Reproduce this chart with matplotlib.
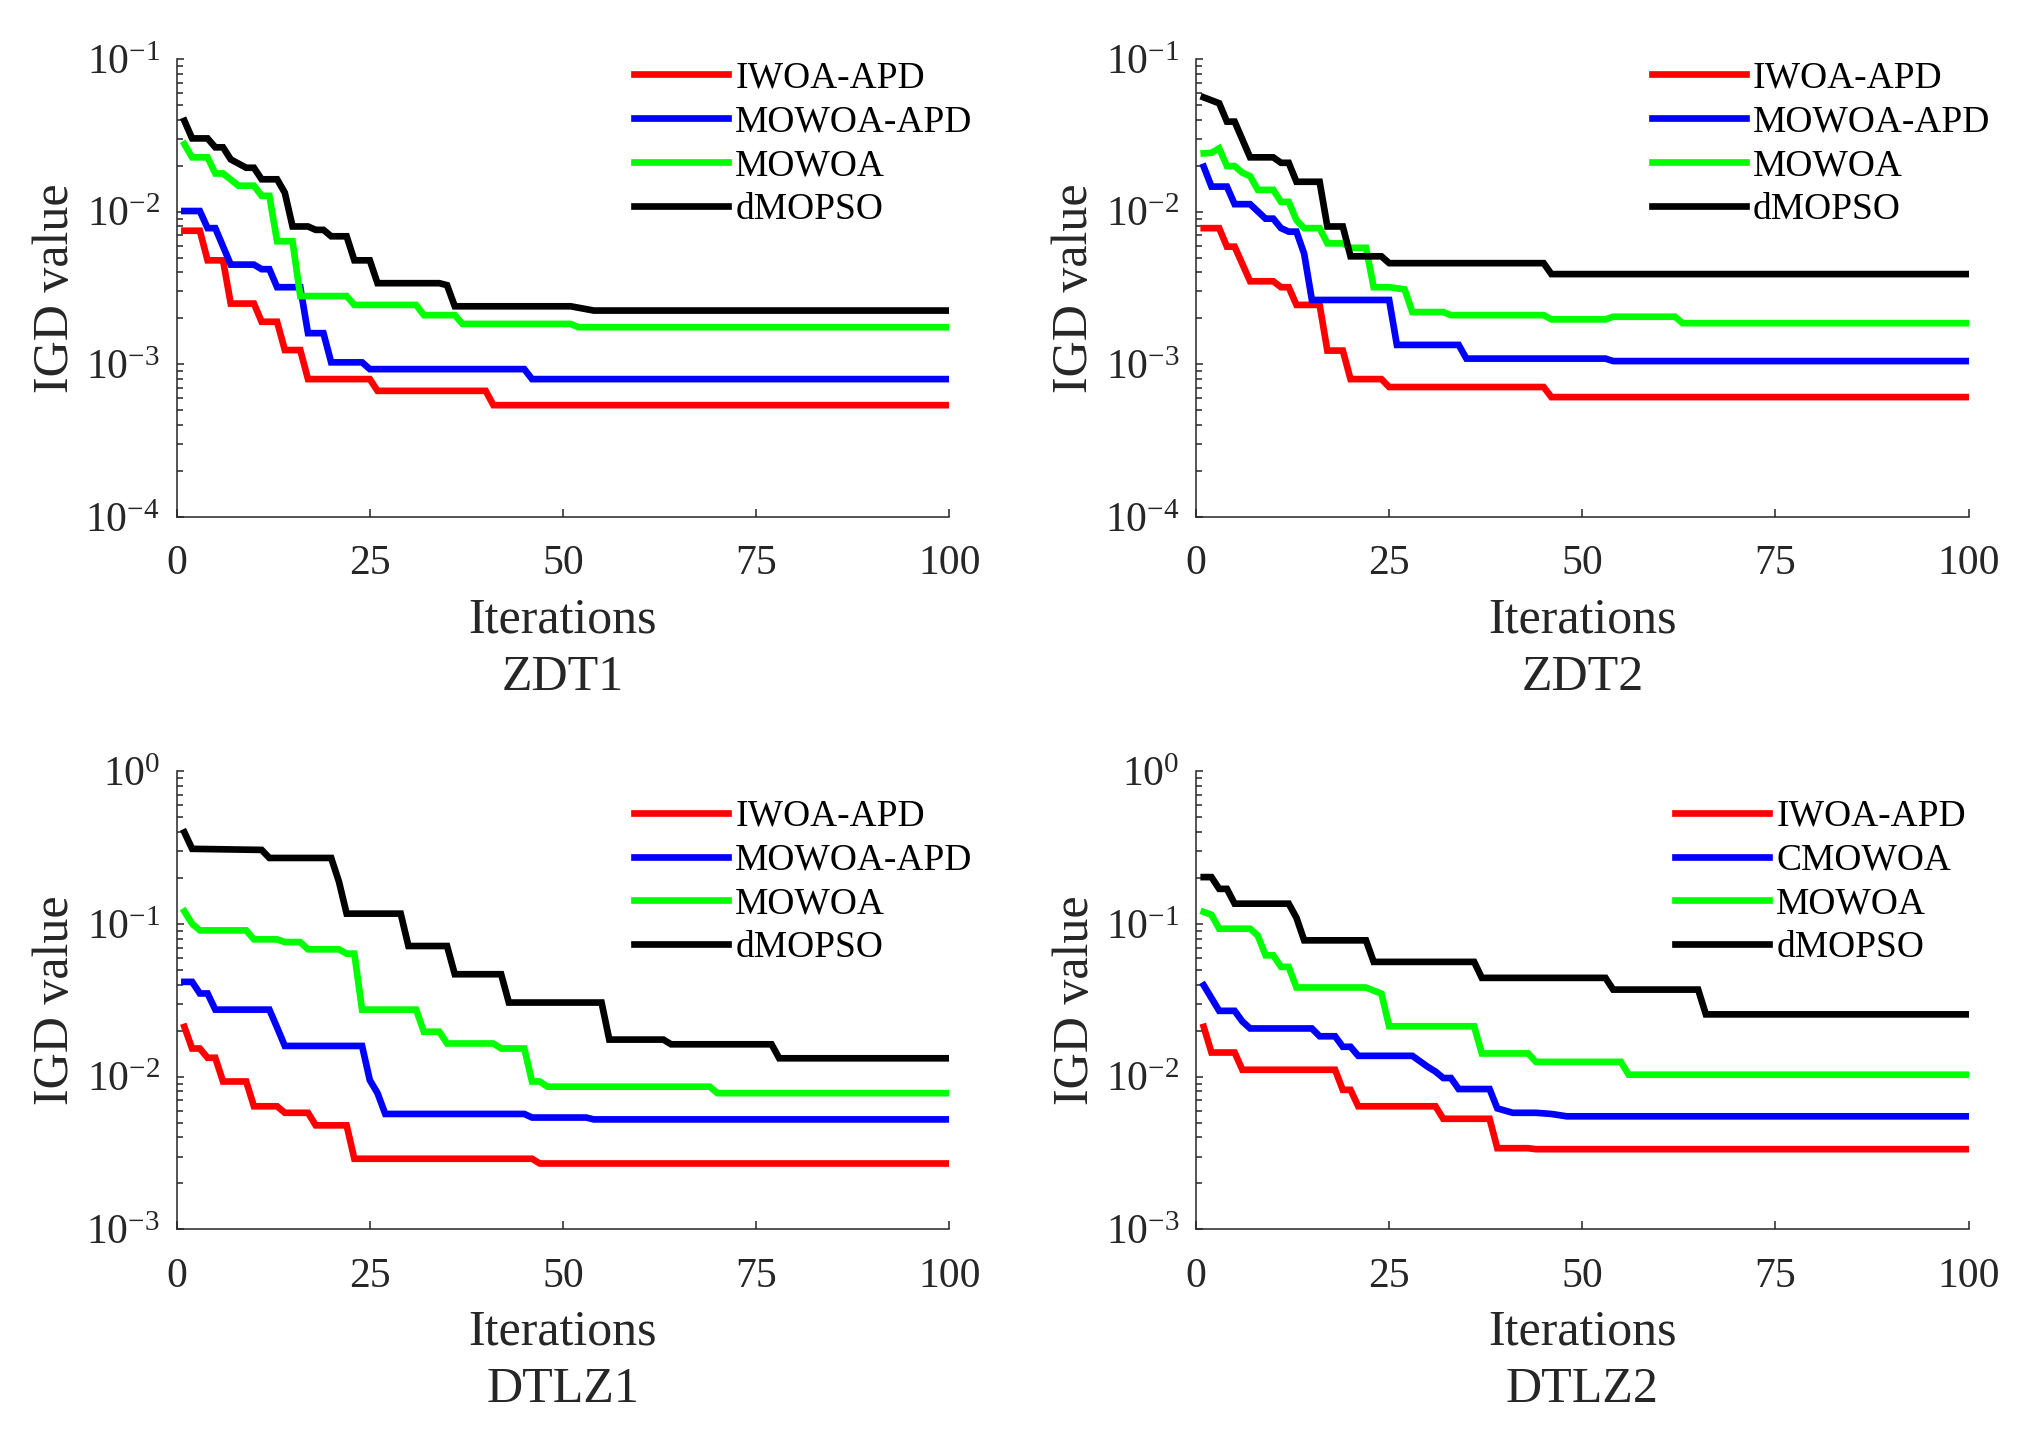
import matplotlib
matplotlib.use('Agg')
import matplotlib.pyplot as plt
from matplotlib.ticker import LogLocator, NullFormatter

plt.rcParams['font.family'] = ['Liberation Serif', 'DejaVu Serif']
plt.rcParams['mathtext.fontset'] = 'custom'
plt.rcParams['mathtext.rm'] = 'Liberation Serif'
plt.rcParams['mathtext.it'] = 'Liberation Serif:italic'
plt.rcParams['axes.unicode_minus'] = False

# (iteration, IGD value) knots
zdt1_iwoa_apd = [(1, 0.0075), (3, 0.0075), (4, 0.0048), (6, 0.0048), (7, 0.0025), (10, 0.0025),
                 (11, 0.0019), (13, 0.0019), (14, 0.00124), (16, 0.00124), (17, 0.0008), (25, 0.0008),
                 (26, 0.00067), (40, 0.00067), (41, 0.00054), (100, 0.00054)]
zdt1_mowoa_apd = [(1, 0.0101), (3, 0.0101), (4, 0.0078), (5, 0.0078), (7, 0.0045), (10, 0.0045),
                  (11, 0.0042), (12, 0.0042), (13, 0.0032), (16, 0.0032), (17, 0.0016), (19, 0.0016),
                  (20, 0.00103), (24, 0.00103), (25, 0.00093), (45, 0.00093), (46, 0.0008), (100, 0.0008)]
zdt1_mowoa = [(1, 0.0277), (2, 0.0227), (4, 0.0227), (5, 0.0178), (6, 0.0178), (8, 0.0148), (10, 0.0148),
              (11, 0.0127), (12, 0.0127), (13, 0.0064), (15, 0.0064), (16, 0.0028), (22, 0.0028),
              (23, 0.00245), (31, 0.00245), (32, 0.0021), (36, 0.0021), (37, 0.00184), (51, 0.00184),
              (52, 0.00175), (100, 0.00175)]
zdt1_dmopso = [(1, 0.0394), (2, 0.0302), (4, 0.0302), (5, 0.0264), (6, 0.0264), (7, 0.022), (9, 0.0194),
               (10, 0.0194), (11, 0.0163), (13, 0.0163), (14, 0.0133), (15, 0.008), (17, 0.008),
               (18, 0.0076), (19, 0.0076), (20, 0.0069), (22, 0.0069), (23, 0.0048), (25, 0.0048),
               (26, 0.0034), (34, 0.0034), (35, 0.0033), (36, 0.0024), (51, 0.0024), (54, 0.00225),
               (100, 0.00225)]

zdt2_iwoa_apd = [(1, 0.0078), (3, 0.0078), (4, 0.0059), (5, 0.0059), (7, 0.0035), (10, 0.0035),
                 (11, 0.0032), (12, 0.0032), (13, 0.00245), (16, 0.00245), (17, 0.00123), (19, 0.00123),
                 (20, 0.0008), (24, 0.0008), (25, 0.00071), (45, 0.00071), (46, 0.00061), (100, 0.00061)]
zdt2_mowoa_apd = [(1, 0.0197), (2, 0.0146), (4, 0.0146), (5, 0.0112), (7, 0.0112), (9, 0.009), (10, 0.009),
                  (11, 0.0078), (12, 0.0074), (13, 0.0074), (14, 0.0053), (15, 0.00264), (25, 0.00264),
                  (26, 0.00134), (34, 0.00134), (35, 0.00109), (53, 0.00109), (54, 0.00105), (100, 0.00105)]
zdt2_mowoa = [(1, 0.0241), (2, 0.0243), (3, 0.026), (4, 0.0199), (5, 0.0199), (6, 0.018), (7, 0.0171),
              (8, 0.0139), (10, 0.0139), (11, 0.0116), (12, 0.0116), (13, 0.0088), (14, 0.0078),
              (16, 0.0078), (17, 0.0062), (19, 0.0062), (20, 0.0058), (22, 0.0058), (23, 0.0032),
              (25, 0.0032), (27, 0.0031), (28, 0.0022), (32, 0.0022), (33, 0.0021), (45, 0.0021),
              (46, 0.00197), (53, 0.00197), (54, 0.00205), (62, 0.00205), (63, 0.00186), (100, 0.00186)]
zdt2_dmopso = [(1, 0.0561), (3, 0.0513), (4, 0.0389), (5, 0.0389), (7, 0.0227), (10, 0.0227),
               (11, 0.0209), (12, 0.0209), (13, 0.0157), (16, 0.0157), (17, 0.008), (19, 0.008),
               (20, 0.0051), (24, 0.0051), (25, 0.0046), (45, 0.0046), (46, 0.0039), (100, 0.0039)]

dtlz1_iwoa_apd = [(1, 0.0212), (2, 0.0153), (3, 0.0153), (4, 0.0133), (5, 0.0133), (6, 0.0093), (9, 0.0093),
                  (10, 0.0064), (13, 0.0064), (14, 0.0058), (17, 0.0058), (18, 0.0048), (22, 0.0048),
                  (23, 0.0029), (46, 0.0029), (47, 0.0027), (100, 0.0027)]
dtlz1_mowoa_apd = [(1, 0.0418), (2, 0.0418), (3, 0.0351), (4, 0.0351), (5, 0.0275), (12, 0.0275),
                   (13, 0.021), (14, 0.0159), (24, 0.0159), (25, 0.0095), (26, 0.0078), (27, 0.0057),
                   (45, 0.0057), (46, 0.0054), (53, 0.0054), (54, 0.00525), (100, 0.00525)]
dtlz1_mowoa = [(1, 0.121), (2, 0.1005), (3, 0.0909), (9, 0.0909), (10, 0.0794), (13, 0.0794), (14, 0.0762),
               (16, 0.0762), (17, 0.0683), (21, 0.0683), (22, 0.064), (23, 0.064), (24, 0.0275),
               (31, 0.0275), (32, 0.0197), (34, 0.0197), (35, 0.0165), (41, 0.0165), (42, 0.0153),
               (45, 0.0153), (46, 0.0093), (47, 0.0093), (48, 0.0086), (69, 0.0086), (70, 0.0078),
               (100, 0.0078)]
dtlz1_dmopso = [(1, 0.399), (2, 0.311), (11, 0.306), (12, 0.271), (20, 0.271), (21, 0.19), (22, 0.117),
                (29, 0.117), (30, 0.0718), (35, 0.0718), (36, 0.0469), (42, 0.0469), (43, 0.0306),
                (55, 0.0306), (56, 0.0175), (63, 0.0175), (64, 0.0163), (77, 0.0163), (78, 0.0132),
                (100, 0.0132)]

dtlz2_iwoa_apd = [(1, 0.0212), (2, 0.0144), (5, 0.0144), (6, 0.0111), (18, 0.0111), (19, 0.0082),
                  (20, 0.0082), (21, 0.0064), (31, 0.0064), (32, 0.0053), (38, 0.0053), (39, 0.0034),
                  (43, 0.0034), (44, 0.00335), (100, 0.00335)]
dtlz2_cmowoa = [(1, 0.0397), (3, 0.027), (5, 0.027), (6, 0.023), (7, 0.0207), (15, 0.0207), (16, 0.0184),
                (18, 0.0184), (19, 0.0157), (20, 0.0157), (21, 0.0137), (28, 0.0137), (30, 0.0116),
                (31, 0.0108), (32, 0.0098), (33, 0.0098), (34, 0.0083), (38, 0.0083), (39, 0.0062),
                (41, 0.0058), (44, 0.0058), (46, 0.0057), (48, 0.0055), (100, 0.0055)]
dtlz2_mowoa = [(1, 0.12), (2, 0.115), (3, 0.0932), (7, 0.0932), (8, 0.084), (9, 0.0624), (10, 0.0624),
               (11, 0.0524), (12, 0.0524), (13, 0.0384), (22, 0.0384), (24, 0.035), (25, 0.0214),
               (36, 0.0214), (37, 0.0142), (43, 0.0142), (44, 0.0125), (55, 0.0125), (56, 0.0103),
               (100, 0.0103)]
dtlz2_dmopso = [(1, 0.203), (2, 0.203), (3, 0.17), (4, 0.17), (5, 0.136), (12, 0.136), (13, 0.11),
                (14, 0.0782), (22, 0.0782), (23, 0.0565), (36, 0.0565), (37, 0.0444), (53, 0.0444),
                (54, 0.0372), (65, 0.0372), (66, 0.0256), (100, 0.0256)]

labels_a = ['IWOA-APD', 'MOWOA-APD', 'MOWOA', 'dMOPSO']
labels_b = ['IWOA-APD', 'CMOWOA', 'MOWOA', 'dMOPSO']
colors = ['#ff0000', '#0000ff', '#00ff00', '#000000']
xticks = [0, 25, 50, 75, 100]

# name, series, labels, ylim, axes rect, legend anchor
panels = [
    ('ZDT1', [zdt1_iwoa_apd, zdt1_mowoa_apd, zdt1_mowoa, zdt1_dmopso], labels_a, (1e-4, 1e-1),
     [0.0869, 0.641, 0.380, 0.318], (0.592, 0.996)),
    ('ZDT2', [zdt2_iwoa_apd, zdt2_mowoa_apd, zdt2_mowoa, zdt2_dmopso], labels_a, (1e-4, 1e-1),
     [0.5883, 0.641, 0.380, 0.318], (0.590, 0.996)),
    ('DTLZ1', [dtlz1_iwoa_apd, dtlz1_mowoa_apd, dtlz1_mowoa, dtlz1_dmopso], labels_a, (1e-3, 1e0),
     [0.0869, 0.1463, 0.380, 0.318], (0.592, 0.939)),
    ('DTLZ2', [dtlz2_iwoa_apd, dtlz2_cmowoa, dtlz2_mowoa, dtlz2_dmopso], labels_b, (1e-3, 1e0),
     [0.5883, 0.1463, 0.380, 0.318], (0.620, 0.939)),
]

fig = plt.figure(figsize=(20.33, 14.4), dpi=100)

for name, series, labels, ylim, rect, anchor in panels:
    ax = fig.add_axes(rect)
    for pts, lab, c in zip(series, labels, colors):
        xs = [p[0] for p in pts]
        ys = [p[1] for p in pts]
        ax.plot(xs, ys, color=c, lw=4.8, label=lab, solid_joinstyle='miter')
    ax.set_yscale('log')
    ax.set_xlim(0, 100)
    ax.set_ylim(*ylim)
    ax.set_xticks(xticks)
    ax.yaxis.set_major_locator(LogLocator(base=10, numticks=10))
    ax.yaxis.set_minor_locator(LogLocator(base=10, subs=range(2, 10), numticks=20))
    ax.yaxis.set_minor_formatter(NullFormatter())
    for s in ['top', 'right']:
        ax.spines[s].set_visible(False)
    for s in ['left', 'bottom']:
        ax.spines[s].set_color('#262626')
        ax.spines[s].set_linewidth(1.1)
    ax.tick_params(axis='both', which='both', direction='in', colors='#262626',
                   labelcolor='#262626', width=1.1, labelsize=30)
    ax.tick_params(axis='x', which='major', length=6, pad=20)
    ax.tick_params(axis='y', which='major', length=5, pad=12)
    ax.tick_params(axis='y', which='minor', length=4)
    ax.set_xlabel('Iterations\n' + name, fontsize=36, labelpad=10, linespacing=1.3,
                  color='#262626')
    ax.set_ylabel('IGD value', fontsize=36, labelpad=5, color='#262626')
    ax.legend(loc='upper left', bbox_to_anchor=anchor, frameon=False, fontsize=27,
              handlelength=2.5, handletextpad=0.2, labelspacing=0.25,
              borderpad=0, borderaxespad=0)

fig.savefig('out.png', dpi=100, facecolor='white')
